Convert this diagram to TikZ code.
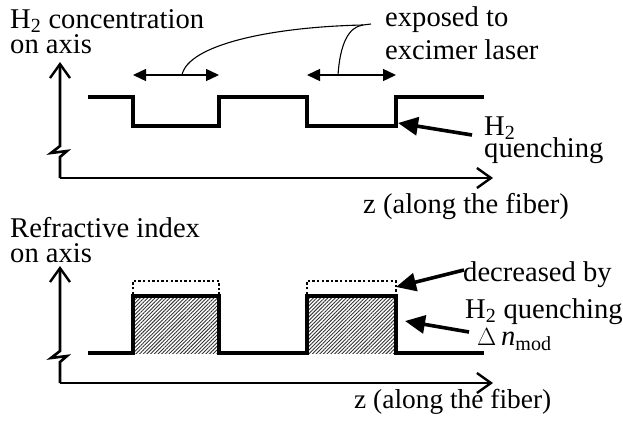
\documentclass[tikz,border=0pt]{standalone}
\usepackage{fontspec}
\setmainfont{Liberation Serif}
\usetikzlibrary{arrows.meta,patterns.meta}
\begin{document}
\begin{tikzpicture}[x=1pt,y=-1pt,
  lbl/.style={anchor=base west,inner sep=0pt,font=\fontsize{28.6}{29}\selectfont},
  axis/.style={line width=2.6pt,line join=miter},
  axtip/.style={-{Straight Barb[length=14pt,width=20pt,line width=2.4pt]}},
  wave/.style={line width=3.6pt,line join=miter},
  span/.style={line width=1.4pt,{Triangle[length=13pt,width=12pt]}-{Triangle[length=13pt,width=12pt]}},
  lead/.style={line width=1.1pt},
  pointer/.style={line width=3.6pt,-{Triangle[length=20pt,width=18pt]}},
  dotcap/.style={line width=1.9pt,dash pattern=on 2.4pt off 2.2pt},
  hatch/.style={pattern={Lines[angle=45,distance=2.6pt,line width=0.9pt]},pattern color=black!80}]
\useasboundingbox (0,0) rectangle (623,431);

% ---------- upper plot: H2 concentration ----------
\coordinate (o1) at (60,178);
\coordinate (x1) at (493,178);
\coordinate (y1) at (60,62);
\draw[axis,axtip] (o1) -- (60,157) -- (67,151) -- (51,153) -- (60,146) -- (y1);
\draw[axis,axtip] (o1) -- (x1);

\draw[wave] (88,97) -- (133,97) -- (133,126) -- (219,126) -- (219,97)
  -- (307,97) -- (307,126) -- (396,126) -- (396,97) -- (484,97);

\coordinate (a1l) at (133,75);
\coordinate (a1r) at (219,75);
\coordinate (a2l) at (307,75);
\coordinate (a2r) at (396,75);
\draw[span] (a1l) -- (a1r);
\draw[span] (a2l) -- (a2r);
\coordinate (m1) at (182,75);
\coordinate (m2) at (338,75);
\coordinate (jn) at (371,24);

\node[lbl] (conc) at (10,28) {H\textsubscript{2} concentration};
\node[lbl] (conc2) at (10,53) {on axis};
\node[lbl] (expo) at (385,26) {exposed to};
\node[lbl] (expo2) at (385,59) {excimer laser};
\node[lbl] (hq1) at (484,135) {H\textsubscript{2}};
\node[lbl] (hq2) at (484,157) {quenching};
\node[lbl] (z1) at (363,213) {z (along the fiber)};

\draw[lead] (m1) .. controls (188,45) and (270,27) .. (363,25) -- (jn);
\draw[lead] (m2) .. controls (340,45) and (348,27) .. (363,25);

\coordinate (qtail) at (472,135);
\coordinate (qtip) at (398,123);
\draw[pointer] (qtail) -- (qtip);

% ---------- lower plot: refractive index ----------
\coordinate (o2) at (60,383);
\coordinate (x2) at (493,383);
\coordinate (y2) at (60,266);
\draw[axis,axtip] (o2) -- (60,362) -- (67,356) -- (51,358) -- (60,351) -- (y2);
\draw[axis,axtip] (o2) -- (x2);

\fill[hatch] (133,296) rectangle (219,353);
\fill[hatch] (307,296) rectangle (396,353);
\draw[wave] (88,353) -- (133,353) -- (133,296) -- (219,296) -- (219,353)
  -- (307,353) -- (307,296) -- (396,296) -- (396,353) -- (484,353);
\draw[dotcap] (133,294) -- (133,281) -- (219,281) -- (219,294);
\draw[dotcap] (307,294) -- (307,281) -- (396,281) -- (396,294);

\node[lbl] (ri) at (10,237) {Refractive index};
\node[lbl] (ri2) at (10,262) {on axis};
\node[lbl] (dec) at (463,281) {decreased by};
\node[lbl] (dec2) at (465,318) {H\textsubscript{2} quenching};
\node[lbl] (dn) at (477,345) {$\Delta$\,\textit{n}\textsubscript{mod}};
\node[lbl,font=\fontsize{27.4}{28}\selectfont] (z2) at (354,408) {z (along the fiber)};

\coordinate (dtail) at (464,270);
\coordinate (dtip) at (396,287);
\draw[pointer] (dtail) -- (dtip);
\coordinate (ntail) at (469,332);
\coordinate (ntip) at (405,321);
\draw[pointer] (ntail) -- (ntip);
\end{tikzpicture}
\end{document}
